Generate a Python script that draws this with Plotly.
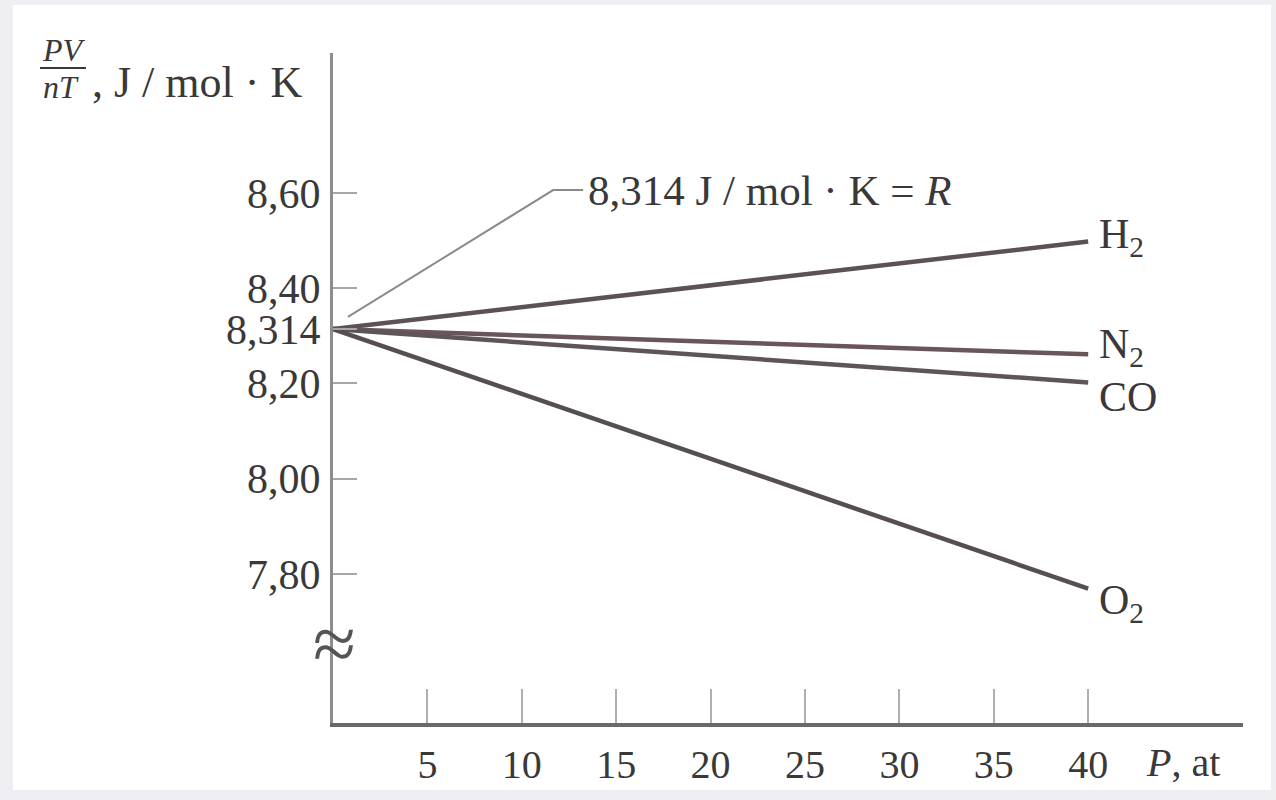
import plotly.graph_objects as go

# ---------------- data ----------------
P = [0, 40]
gases = ["H2", "N2", "CO", "O2"]
gas_labels = ["H<sub>2</sub>", "N<sub>2</sub>", "CO", "O<sub>2</sub>"]
H2 = [8.314, 8.498]
N2 = [8.314, 8.261]
CO = [8.314, 8.202]
O2 = [8.314, 7.769]
series = [H2, N2, CO, O2]
label_y = [8.508, 8.2765, 8.171, 7.739]   # label anchor values next to line ends

y_tickvals = [7.80, 8.00, 8.20, 8.314, 8.40, 8.60]
y_ticktext = ["7,80", "8,00", "8,20", "8,314", "8,40", "8,60"]
x_tickvals = [5, 10, 15, 20, 25, 30, 35, 40]
x_ticktext = ["5", "10", "15", "20", "25", "30", "35", "40"]

R_text = "8,314 J / mol · K = <i>R</i>"

# ---------------- layout geometry ----------------
W, H = 1276, 800
ML, MR, MT, MB = 333, 33, 53, 77
X_RANGE = [0, 48.2]
Y_RANGE = [7.4866, 8.894]
PW = W - ML - MR
PH = H - MT - MB

def px2paper_x(px):
    return (px - ML) / PW

def px2paper_y(py):
    return 1 - (py - MT) / PH

FONT = "Liberation Serif"
TXT = "#3a3838"
LINE_COLORS = ["#5c5256", "#6a5559", "#5e5558", "#55504f"]

fig = go.Figure()

for name, vals, col in zip(gases, series, LINE_COLORS):
    fig.add_trace(go.Scatter(x=P, y=vals, mode="lines", name=name,
                             line=dict(color=col, width=4.5),
                             showlegend=False, hoverinfo="skip"))

# leader line for R annotation (data coords)
lead_x = [0.79, 11.66, 13.25]
lead_y = [8.3395, 8.606, 8.606]
fig.add_trace(go.Scatter(x=lead_x, y=lead_y, mode="lines",
                         line=dict(color="#8c8a8c", width=2),
                         showlegend=False, hoverinfo="skip"))

annotations = []
for lab, ly in zip(gas_labels, label_y):
    annotations.append(dict(x=40.45, y=ly, text=lab,
                            showarrow=False, xanchor="left", yanchor="middle",
                            font=dict(family=FONT, size=42, color=TXT)))

# R annotation text
annotations.append(dict(x=13.4, y=8.606, text=R_text, showarrow=False,
                        xanchor="left", yanchor="middle",
                        font=dict(family=FONT, size=43, color=TXT)))

# x-axis title
annotations.append(dict(x=px2paper_x(1144), y=px2paper_y(762), xref="paper", yref="paper",
                        text="<i>P</i>, at", showarrow=False, xanchor="left", yanchor="middle",
                        font=dict(family=FONT, size=40, color=TXT)))

# y-axis title: fraction PV / nT
annotations.append(dict(x=px2paper_x(64), y=px2paper_y(50), xref="paper", yref="paper",
                        text="<i>PV</i>", showarrow=False, xanchor="center", yanchor="middle",
                        font=dict(family=FONT, size=32, color=TXT)))
annotations.append(dict(x=px2paper_x(61), y=px2paper_y(87), xref="paper", yref="paper",
                        text="<i>nT</i>", showarrow=False, xanchor="center", yanchor="middle",
                        font=dict(family=FONT, size=32, color=TXT)))
annotations.append(dict(x=px2paper_x(90), y=px2paper_y(82), xref="paper", yref="paper",
                        text=", J / mol · K", showarrow=False, xanchor="left", yanchor="middle",
                        font=dict(family=FONT, size=44, color=TXT)))

# axis break symbol
annotations.append(dict(x=px2paper_x(ML + 1), y=px2paper_y(643), xref="paper", yref="paper",
                        text="≈", showarrow=False, xanchor="center", yanchor="middle",
                        font=dict(family=FONT, size=78, color="#555")))

shapes = [
    # white inner panel over light frame
    dict(type="rect", xref="paper", yref="paper", layer="below",
         x0=px2paper_x(13), x1=px2paper_x(1271), y0=px2paper_y(790), y1=px2paper_y(5),
         fillcolor="white", line=dict(width=0)),
    # fraction bar
    dict(type="line", xref="paper", yref="paper",
         x0=px2paper_x(40), x1=px2paper_x(86), y0=px2paper_y(68), y1=px2paper_y(68),
         line=dict(color=TXT, width=2)),
]

fig.update_layout(
    width=W, height=H,
    margin=dict(l=ML, r=MR, t=MT, b=MB, pad=0),
    paper_bgcolor="#efeef3",
    plot_bgcolor="rgba(0,0,0,0)",
    annotations=annotations,
    shapes=shapes,
    xaxis=dict(range=X_RANGE, showgrid=False, zeroline=False, automargin=False,
               showline=True, linecolor="#6a6869", linewidth=4,
               ticks="inside", ticklen=34, tickwidth=1.5, tickcolor="#b0aeb0",
               tickvals=x_tickvals, ticktext=x_ticktext,
               tickfont=dict(family=FONT, size=40, color=TXT),
               ticklabelstandoff=3),
    yaxis=dict(range=Y_RANGE, showgrid=False, zeroline=False, automargin=False,
               showline=True, linecolor="#8e8c8e", linewidth=3,
               ticks="inside", ticklen=24, tickwidth=1.5, tickcolor="#a8a6a8",
               tickvals=y_tickvals, ticktext=y_ticktext,
               tickfont=dict(family=FONT, size=42, color=TXT),
               ticklabelstandoff=1),
)

fig.write_html(
    "out.html",
    config={"displayModeBar": False},
    post_script="document.body.style.margin='0';document.body.style.overflow='hidden';",
)
